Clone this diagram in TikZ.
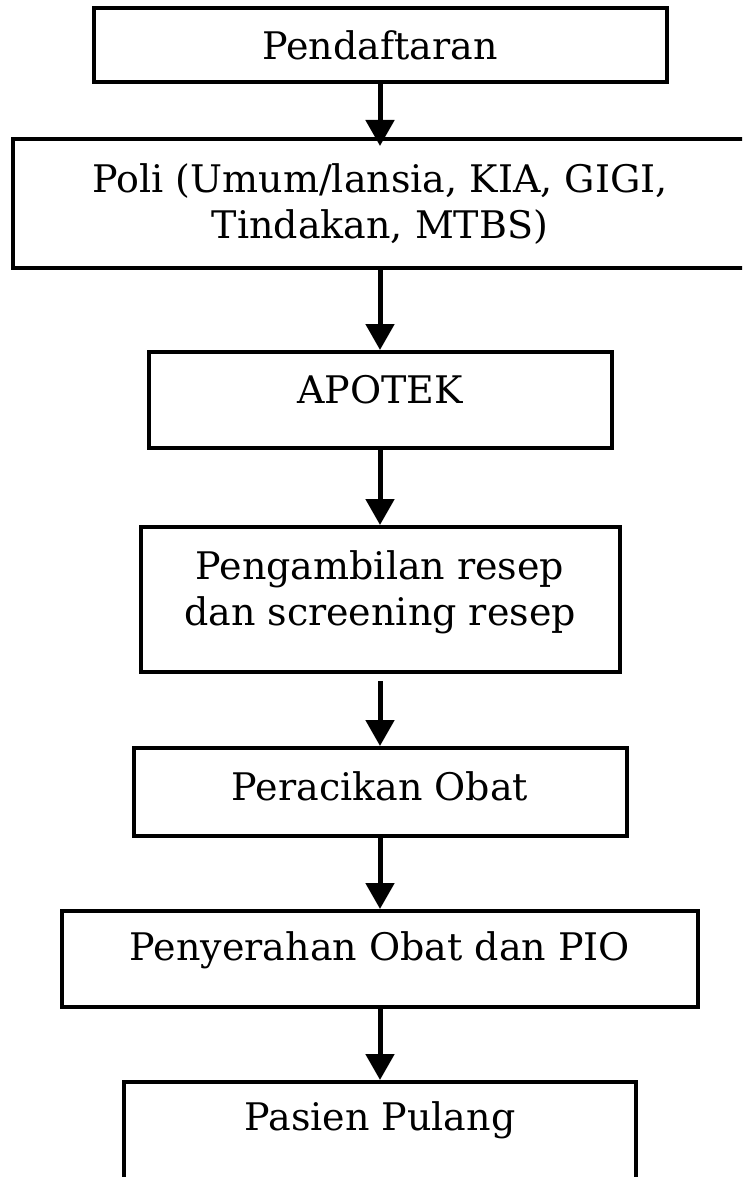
\documentclass[tikz,border=0pt]{standalone}
\usepackage{fontspec}
\setmainfont{DejaVu Serif}
\usetikzlibrary{arrows.meta}

\begin{document}
\begin{tikzpicture}[x=1pt,y=-1pt]
   \tikzset{Box/.style={draw,line width=4pt,inner sep=0pt},
            Txt/.style={inner sep=0pt,align=center,font=\fontsize{38}{46}\selectfont},
            EdgeStyle/.style={-{Triangle[width=28pt,length=26pt]},line width=5pt}}
   \useasboundingbox (0,0) rectangle (742,1177);
   \clip (0,0) rectangle (742,1177);
   \node[Box,minimum width=573pt,minimum height=74pt] (daftar) at (380,45) {};
   \node[Txt,anchor=base] (daftarT) at (380,60) {Pendaftaran};
   \node[Box,minimum width=734pt,minimum height=129pt] (poli) at (380,203.5) {};
   \node[Txt] (poliT) at (380,204) {Poli (Umum/lansia, KIA, GIGI,\\Tindakan, MTBS)};
   \node[Box,minimum width=463pt,minimum height=96pt] (apotek) at (380,400) {};
   \node[Txt,anchor=base] (apotekT) at (380,403) {APOTEK};
   \node[Box,minimum width=479pt,minimum height=145pt] (resep) at (380,599.5) {};
   \node[Txt] (resepT) at (380,592) {Pengambilan resep\\dan screening resep};
   \node[Box,minimum width=493pt,minimum height=88pt] (racik) at (380,792) {};
   \node[Txt,anchor=base] (racikT) at (380,800) {Peracikan Obat};
   \node[Box,minimum width=636pt,minimum height=96pt] (serah) at (380,959) {};
   \node[Txt,anchor=base] (serahT) at (380,960) {Penyerahan Obat dan PIO};
   \node[Box,minimum width=512pt,minimum height=140pt] (pulang) at (380,1152) {};
   \node[Txt,anchor=base] (pulangT) at (380,1130) {Pasien Pulang};
   \draw[EdgeStyle,shorten >=-9pt] (daftar) -- (poli);
   \draw[EdgeStyle] (poli) -- (apotek);
   \draw[EdgeStyle] (apotek) -- (resep);
   \draw[EdgeStyle,shorten <=7pt] (resep) -- (racik);
   \draw[EdgeStyle] (racik) -- (serah);
   \draw[EdgeStyle] (serah) -- (pulang);
\end{tikzpicture}
\end{document}
